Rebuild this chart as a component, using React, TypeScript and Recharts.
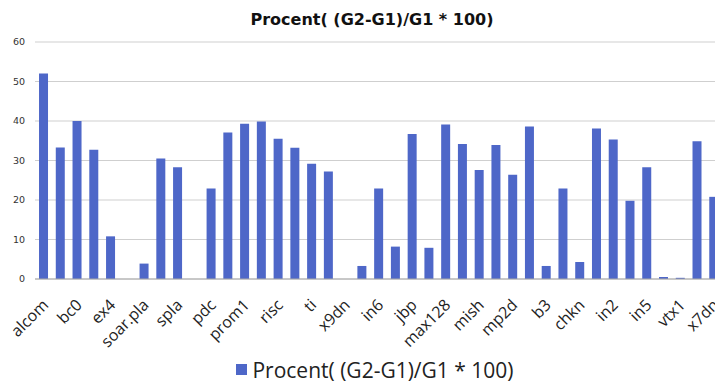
import { BarChart, Bar, XAxis, YAxis, CartesianGrid, Legend } from "recharts";

const categories = [
  "alcom", "apla", "bc0", "dist", "ex4", "exps", "soar.pla", "sqrt8", "spla", "t2",
  "pdc", "prom2", "prom1", "pope.rom", "risc", "tial", "ti", "x1dn", "x9dn", "in0",
  "in6", "in7", "jbp", "lin.rom", "max128", "mark1", "mish", "mlp4", "mp2d", "opa",
  "b3", "bcd.div3", "chkn", "cps", "in2", "in3", "in5", "root", "vtx1", "x6dn",
  "x7dn",
];

const values = [
  52.0, 33.3, 40.0, 32.7, 10.8, 0, 3.9, 30.5, 28.3, 0,
  22.9, 37.1, 39.3, 39.9, 35.5, 33.2, 29.2, 27.2, 0, 3.3,
  22.9, 8.2, 36.7, 7.9, 39.1, 34.2, 27.6, 33.9, 26.4, 38.6,
  3.3, 22.9, 4.3, 38.1, 35.3, 19.8, 28.3, 0.5, 0.3, 34.9,
  20.8,
];

const yTicks = [0, 10, 20, 30, 40, 50, 60];

const SERIES = "Procent( (G2-G1)/G1 * 100)";
const BLUE = "#4E67C8";

const data = categories.map((c, i) => ({ name: c, value: values[i] }));

const AngledTick = ({ x, y, payload }: { x?: number; y?: number; payload?: { value: string } }) => (
  <g transform={`translate(${(x ?? 0) + 6},${(y ?? 0) + 19})`}>
    <text
      transform="rotate(-45)"
      textAnchor="end"
      fill="#222"
      fontSize={16}
      fontFamily="'Open Sans', sans-serif"
    >
      {payload?.value}
    </text>
  </g>
);

const LegendBox = () => (
  <div
    style={{
      height: 36,
      boxSizing: "border-box",
      paddingTop: 9,
      paddingLeft: 28,
      display: "flex",
      justifyContent: "center",
      alignItems: "center",
      fontFamily: "'Open Sans', sans-serif",
      fontSize: 21,
      lineHeight: "22px",
      color: "#222",
    }}
  >
    <span style={{ width: 11, height: 11, background: BLUE, marginRight: 5, display: "inline-block" }} />
    {SERIES}
  </div>
);

export default function App() {
  return (
    <div style={{ position: "absolute", left: 0, top: 0, width: 715, height: 383, overflow: "hidden", background: "#fff" }}>
      <div
        style={{
          position: "absolute",
          top: 11,
          left: 0,
          width: 744,
          textAlign: "center",
          fontFamily: "'DejaVu Sans', sans-serif",
          fontWeight: "bold",
          fontSize: 16,
          lineHeight: "18px",
          color: "#111",
        }}
      >
        {SERIES}
      </div>
      <BarChart
        width={744}
        height={383}
        data={data}
        margin={{ top: 42, right: 22, left: 0, bottom: 0 }}
        barCategoryGap="24%"
      >
        <CartesianGrid vertical={false} stroke="#cfcfcf" />
        <XAxis
          dataKey="name"
          interval={1}
          height={68}
          tick={<AngledTick />}
          tickLine={false}
          axisLine={{ stroke: "#a8a8a8" }}
        />
        <YAxis
          width={35}
          domain={[0, 60]}
          ticks={yTicks}
          axisLine={false}
          tickLine={false}
          tickMargin={4}
          tick={{ fill: "#333", fontSize: 9.5, fontFamily: "'DejaVu Sans', sans-serif" }}
        />
        <Legend verticalAlign="bottom" height={36} content={<LegendBox />} />
        <Bar dataKey="value" name={SERIES} fill={BLUE} isAnimationActive={false} />
      </BarChart>
    </div>
  );
}
